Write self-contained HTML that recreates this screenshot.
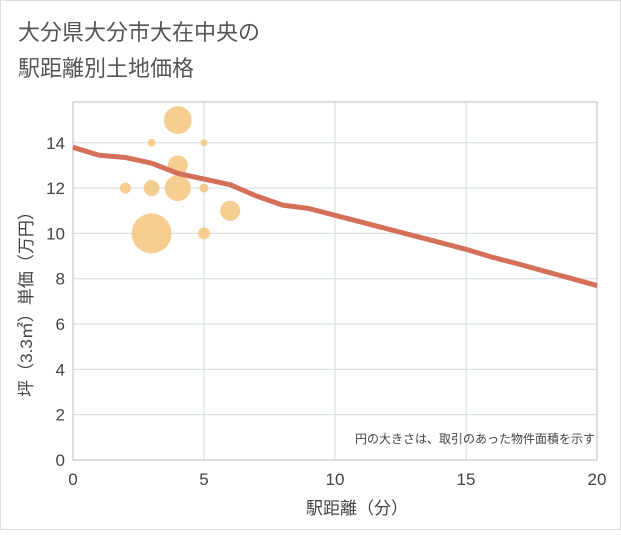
<!DOCTYPE html>
<html><head><meta charset="utf-8"><style>
body{margin:0;background:#fff}
svg text{font-family:"Liberation Sans","Noto Sans CJK JP",sans-serif}
</style></head><body>
<svg width="621" height="530" viewBox="0 0 621 530">
<rect x="0.5" y="0.5" width="620" height="529" fill="#fff" stroke="#ddd"/>
<text x="18" y="40" font-size="22" fill="#555">大分県大分市大在中央の</text>
<text x="18" y="76" font-size="22" fill="#555">駅距離別土地価格</text>
<g id="grid"></g>
<g id="bubbles"></g>
<g id="line"></g>
<g id="axes"></g>
<text x="595" y="443" font-size="12" fill="#444" text-anchor="end">円の大きさは、取引のあった物件面積を示す</text>
<text x="357" y="514" font-size="17" fill="#444" text-anchor="middle">駅距離（分）</text>
<text transform="translate(32,300) rotate(-90)" font-size="17" fill="#444" text-anchor="middle">坪（3.3㎡）単価（万円）</text>
</svg>
<script>
const xTicks=[0,5,10,15,20];
const yTicks=[0,2,4,6,8,10,12,14];
const bubbleX=[3,4,4,4,6,3,2,5,5,3,5];
const bubbleY=[10,15,12,13,11,12,12,12,10,14,14];
const bubbleR=[20,14,13,10,10,8,5.5,4.5,6,4,3.5];
const lineX=[0,1,2,3,4,5,6,7,8,9,10,11,12,13,14,15,16,17,18,19,20];
const lineY=[13.8,13.45,13.35,13.1,12.65,12.4,12.15,11.65,11.25,11.1,10.8,10.5,10.2,9.9,9.6,9.3,8.95,8.65,8.33,8.02,7.7];
const L=73,R=597,T=102,B=460;
const sx=v=>L+(R-L)*v/20, sy=v=>B-(B-T)*v/15.8;
const NS="http://www.w3.org/2000/svg";
function mk(t,a,p){const e=document.createElementNS(NS,t);for(const k in a)e.setAttribute(k,a[k]);p.appendChild(e);return e;}
const g=document.getElementById('grid'),ax=document.getElementById('axes');
yTicks.forEach(v=>{if(v>0){const l=mk('line',{x1:L,x2:R,y1:sy(v),y2:sy(v),stroke:'#cfdbe6','stroke-width':1},g);}
const t=mk('text',{x:L-8,y:sy(v)+6,'font-size':17,fill:'#444','text-anchor':'end'},ax);t.textContent=v;});
xTicks.forEach(v=>{if(v>0){const l=mk('line',{x1:sx(v),x2:sx(v),y1:T,y2:B,stroke:'#cfdbe6','stroke-width':1},g);}
const t=mk('text',{x:sx(v),y:B+25,'font-size':17,fill:'#444','text-anchor':'middle'},ax);t.textContent=v;});
const fr=mk('rect',{x:L,y:T,width:R-L,height:B-T,fill:'none',stroke:'#bbb'},g);

const bg=document.getElementById('bubbles');
bubbleX.forEach((x,i)=>{const c=mk('circle',{cx:sx(x),cy:sy(bubbleY[i]),r:bubbleR[i],fill:'#f4c67e','fill-opacity':0.85},bg);});
const pl=mk('polyline',{points:lineX.map((x,i)=>sx(x)+','+sy(lineY[i])).join(' '),fill:'none',stroke:'#d4705a','stroke-width':5,'stroke-linejoin':'round'},document.getElementById('line'));

</script>
</body></html>
